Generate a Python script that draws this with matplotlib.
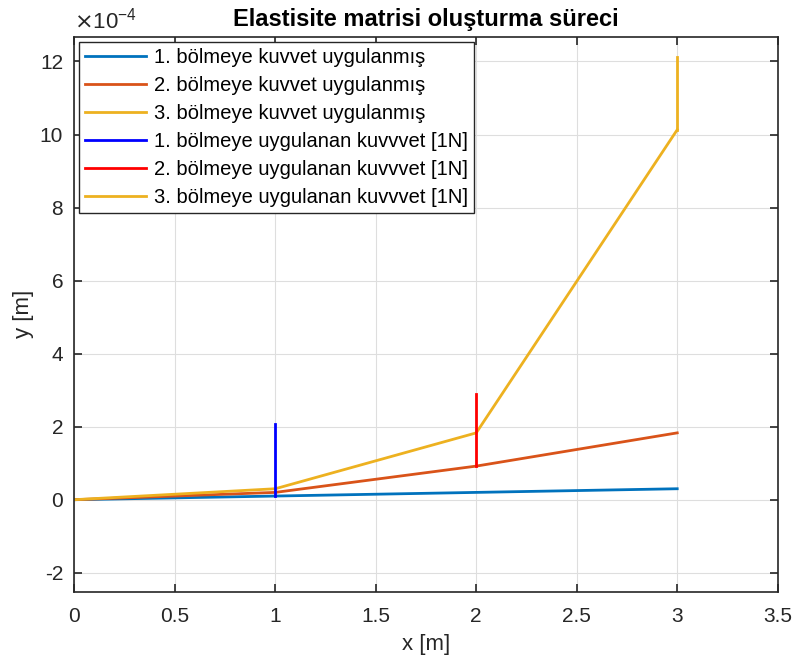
import numpy as np
import matplotlib.pyplot as plt

plt.rcParams['font.family'] = ['Liberation Sans', 'DejaVu Sans']
plt.rcParams['axes.unicode_minus'] = False

# node positions and deflections (in units of 1e-4 m)
x = [0, 1, 2, 3]
y1 = [0, 0.10, 0.20, 0.30]
y2 = [0, 0.20, 0.92, 1.83]
y3 = [0, 0.30, 1.83, 10.13]

# applied force markers: x position, start and end (1e-4 m)
fx = [1, 2, 3]
f_start = [0.10, 0.92, 10.13]
f_end = [2.08, 2.90, 12.13]

labels = ['1. bölmeye kuvvet uygulanmış', '2. bölmeye kuvvet uygulanmış',
          '3. bölmeye kuvvet uygulanmış', '1. bölmeye uygulanan kuvvvet [1N]',
          '2. bölmeye uygulanan kuvvvet [1N]', '3. bölmeye uygulanan kuvvvet [1N]']

c1 = (0, 0.447, 0.741)
c2 = (0.85, 0.325, 0.098)
c3 = (0.929, 0.694, 0.125)
fcols = ['#0000ff', '#ff0000', c3]

fig = plt.figure(figsize=(7.93, 6.61), dpi=100)
ax = fig.add_axes([0.0937, 0.1048, 0.8870, 0.8392])

ax.plot(x, y1, color=c1, lw=2, label=labels[0])
ax.plot(x, y2, color=c2, lw=2, label=labels[1])
ax.plot(x, y3, color=c3, lw=2, label=labels[2])
for i in range(3):
    ax.plot([fx[i], fx[i]], [f_start[i], f_end[i]], color=fcols[i], lw=2, label=labels[3 + i])

ax.set_xlim(0, 3.5)
ax.set_ylim(-2.52, 12.67)
ax.set_xticks(np.arange(0, 3.6, 0.5))
ax.set_xticklabels(['0', '0.5', '1', '1.5', '2', '2.5', '3', '3.5'])
ax.set_yticks(np.arange(-2, 13, 2))
ax.grid(True, color='#dedede', lw=0.8)
ax.set_axisbelow(True)
ax.tick_params(direction='in', top=True, right=True, length=6, width=1.2,
               labelsize=15, colors='#262626')
ax.tick_params(axis='x', pad=11)
ax.tick_params(axis='y', pad=8)
for s in ax.spines.values():
    s.set_color('#262626')
    s.set_linewidth(1.2)

ax.set_xlabel('x [m]', fontsize=16, color='#262626', labelpad=6)
ax.set_ylabel('y [m]', fontsize=16, color='#262626', labelpad=4)
ax.set_title('Elastisite matrisi oluşturma süreci', fontsize=17, fontweight='bold', pad=8)
ax.text(0, 1.006, r'$\times\mathregular{10^{-4}}$', transform=ax.transAxes,
        fontsize=16, color='#262626', ha='left', va='bottom')

leg = ax.legend(loc='upper left', fontsize=14.5, fancybox=False, framealpha=1,
                edgecolor='#262626', handlelength=3.0, handletextpad=0.4,
                borderaxespad=0.25, labelspacing=0.45, borderpad=0.3)
leg.get_frame().set_linewidth(1.0)

fig.savefig('out.png', dpi=100)
